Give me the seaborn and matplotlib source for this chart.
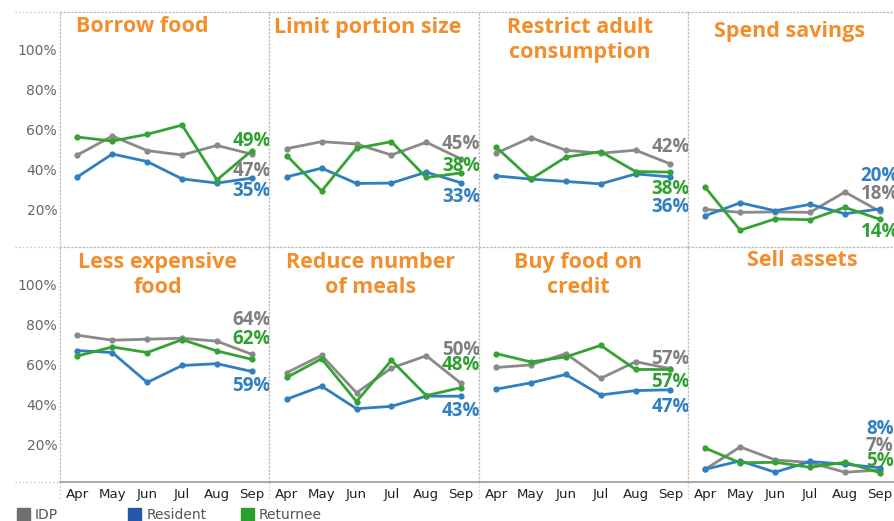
import numpy as np
import pandas as pd
import matplotlib
matplotlib.use("Agg")
import matplotlib.pyplot as plt
from matplotlib.lines import Line2D
from matplotlib.patches import Rectangle
import seaborn as sns

# ---------------- data ----------------
months = ["Apr", "May", "Jun", "Jul", "Aug", "Sep"]
groups = ["IDP", "Resident", "Returnee"]
titles = ["Borrow food", "Limit portion size", "Restrict adult\nconsumption", "Spend savings",
          "Less expensive\nfood", "Reduce number\nof meals", "Buy food on\ncredit", "Sell assets"]

borrow_idp = [47.2, 56.7, 49.4, 47.2, 52.0, 47.6]
borrow_res = [36.2, 47.7, 43.9, 35.2, 33.1, 35.6]
borrow_ret = [56.2, 54.2, 57.6, 62.2, 34.7, 49.4]

limit_idp = [50.4, 53.9, 52.7, 47.2, 53.6, 45.2]
limit_res = [36.2, 40.6, 32.9, 33.1, 38.6, 33.2]
limit_ret = [46.9, 29.1, 50.6, 53.9, 35.9, 38.2]

restrict_idp = [48.1, 55.9, 49.6, 48.1, 49.6, 42.7]
restrict_res = [36.7, 35.1, 33.9, 32.7, 37.7, 36.2]
restrict_ret = [51.2, 35.1, 46.1, 48.9, 38.9, 38.6]

savings_idp = [19.9, 18.4, 18.6, 18.4, 28.6, 18.9]
savings_res = [16.7, 23.2, 19.2, 22.4, 17.7, 20.1]
savings_ret = [30.9, 9.4, 15.1, 14.7, 20.9, 14.9]

cheap_idp = [74.7, 72.2, 72.7, 73.2, 71.7, 65.1]
cheap_res = [67.0, 66.0, 51.0, 59.5, 60.4, 56.5]
cheap_ret = [64.3, 68.8, 66.0, 72.5, 66.8, 62.6]

meals_idp = [55.9, 64.6, 45.8, 58.2, 64.4, 50.5]
meals_res = [42.6, 49.1, 37.8, 39.0, 44.1, 44.1]
meals_ret = [53.5, 62.9, 41.4, 62.1, 44.4, 48.4]

credit_idp = [58.5, 59.8, 65.5, 53.0, 61.4, 57.9]
credit_res = [47.6, 50.8, 55.0, 44.7, 46.9, 47.3]
credit_ret = [65.5, 61.3, 63.8, 69.6, 57.5, 57.5]

assets_idp = [7.4, 18.6, 12.1, 10.8, 5.9, 7.0]
assets_res = [7.4, 11.6, 5.9, 11.3, 9.9, 8.2]
assets_ret = [18.0, 10.6, 10.9, 8.4, 10.9, 5.7]

# end labels (IDP, Resident, Returnee)
end_labels = [["47%", "35%", "49%"], ["45%", "33%", "38%"], ["42%", "36%", "38%"], ["18%", "20%", "14%"],
              ["64%", "59%", "62%"], ["50%", "43%", "48%"], ["57%", "47%", "57%"], ["7%", "8%", "5%"]]

y_ticks = [20, 40, 60, 80, 100]

series = [
    (borrow_idp, borrow_res, borrow_ret),
    (limit_idp, limit_res, limit_ret),
    (restrict_idp, restrict_res, restrict_ret),
    (savings_idp, savings_res, savings_ret),
    (cheap_idp, cheap_res, cheap_ret),
    (meals_idp, meals_res, meals_ret),
    (credit_idp, credit_res, credit_ret),
    (assets_idp, assets_res, assets_ret),
]

# ---------------- layout / style ----------------
label_y_pos = [[39.1, 29.1, 54.2], [52.7, 26.0, 41.8], [51.2, 21.2, 29.9], [27.5, 36.6, 8.3],
               [82.3, 49.1, 72.7], [67.5, 36.8, 60.0], [62.6, 38.8, 51.2], [19.1, 27.6, 11.6]]
title_pos = [(142, 27), (368, 28), (580, 40), (790, 32), (158, 275), (371, 275), (578, 275), (802, 261)]

line_colors = {"IDP": "#8a8a8a", "Resident": "#2f7fc1", "Returnee": "#34a334"}
label_colors = {"IDP": "#7f7f7f", "Resident": "#2f7fc1", "Returnee": "#2ea02e"}
legend_colors = ["#707070", "#2457a8", "#2ca02c"]
orange = "#f28e2b"

sns.set_style("white")
plt.rcParams["font.family"] = ["DejaVu Sans"]

W, H = 895, 521
fig = plt.figure(figsize=(W / 100, H / 100), dpi=100)


def fx(x):
    return x / W


def fy(y):
    return 1 - y / H


dot_style = dict(color="#bdbdbd", linewidth=0.9, linestyle=(0, (1, 2)))

pw = 209.3
ph = 235
row_tops = [12, 247]

for i in range(8):
    r, c = divmod(i, 4)
    left = 60 + c * pw
    top = row_tops[r]
    ax = fig.add_axes([fx(left), fy(top + ph), pw / W, ph / H])

    idp, res, ret = series[i]
    df = pd.DataFrame({
        "month": np.tile(np.arange(len(months)), 3),
        "value": np.concatenate([idp, res, ret]),
        "group": np.repeat(groups, len(months)),
    })
    sns.lineplot(data=df, x="month", y="value", hue="group", hue_order=groups,
                 palette=line_colors, marker="o", markersize=4.5, markeredgewidth=0,
                 linewidth=2, legend=False, ax=ax, sort=False)

    for g, lab, ly in zip(groups, end_labels[i], label_y_pos[i]):
        ax.text(5, ly, lab, ha="center", va="center", color=label_colors[g],
                fontsize=13.5, fontweight="bold", family=["Open Sans", "DejaVu Sans"],
                clip_on=False)

    ax.set_xlim(-0.5, 5.5)
    ax.set_ylim(1, 119)
    ax.set_xlabel("")
    ax.set_ylabel("")

    for s in ["top", "left", "right", "bottom"]:
        ax.spines[s].set_color("#bdbdbd")
        ax.spines[s].set_linewidth(0.9)
        ax.spines[s].set_linestyle((0, (1, 2)))

    ax.set_yticks(y_ticks)
    if c == 0:
        ax.set_yticklabels([f"{t}%" for t in y_ticks], color="#666666", fontsize=10)
    else:
        ax.set_yticklabels([])
    ax.tick_params(axis="y", length=0, pad=2)

    ax.set_xticks(range(len(months)))
    if r == 1:
        ax.set_xticklabels(months, color="#222222", fontsize=9.6)
        ax.spines["bottom"].set_linestyle("-")
        ax.spines["bottom"].set_color("#9a9a9a")
        ax.spines["bottom"].set_linewidth(1.2)
        ax.set_xticks([0.5, 1.5, 2.5, 3.5, 4.5], minor=True)
        ax.tick_params(axis="x", which="minor", length=4, color="#d0d0d0", width=0.8)
        ax.tick_params(axis="x", which="major", length=0, pad=4)
    else:
        ax.set_xticklabels([])
        ax.tick_params(axis="x", length=0)

    tx, ty = title_pos[i]
    fig.text(fx(tx), fy(ty), titles[i], ha="center", va="center", color=orange,
             fontsize=15.5, fontweight="bold", family=["Open Sans", "DejaVu Sans"],
             linespacing=1.2)

# dotted guide lines in the left margin and below panels
for yy in [12, 247, 482]:
    fig.add_artist(Line2D([fx(15), fx(60)], [fy(yy), fy(yy)], **dot_style))
for k in range(4):
    xx = 60 + k * pw
    fig.add_artist(Line2D([fx(xx), fx(xx)], [fy(482), fy(500)], **dot_style))

# legend
sq_x = [17, 128, 241]
txt_x = [35, 147, 259]
for g, col, sx, tx in zip(groups, legend_colors, sq_x, txt_x):
    fig.add_artist(Rectangle((fx(sx), fy(521)), 13 / W, 13 / H, color=col,
                             transform=fig.transFigure))
    fig.text(fx(tx), fy(515), g, ha="left", va="center", fontsize=10, color="#555555")

fig.savefig("out.png", dpi=100)
